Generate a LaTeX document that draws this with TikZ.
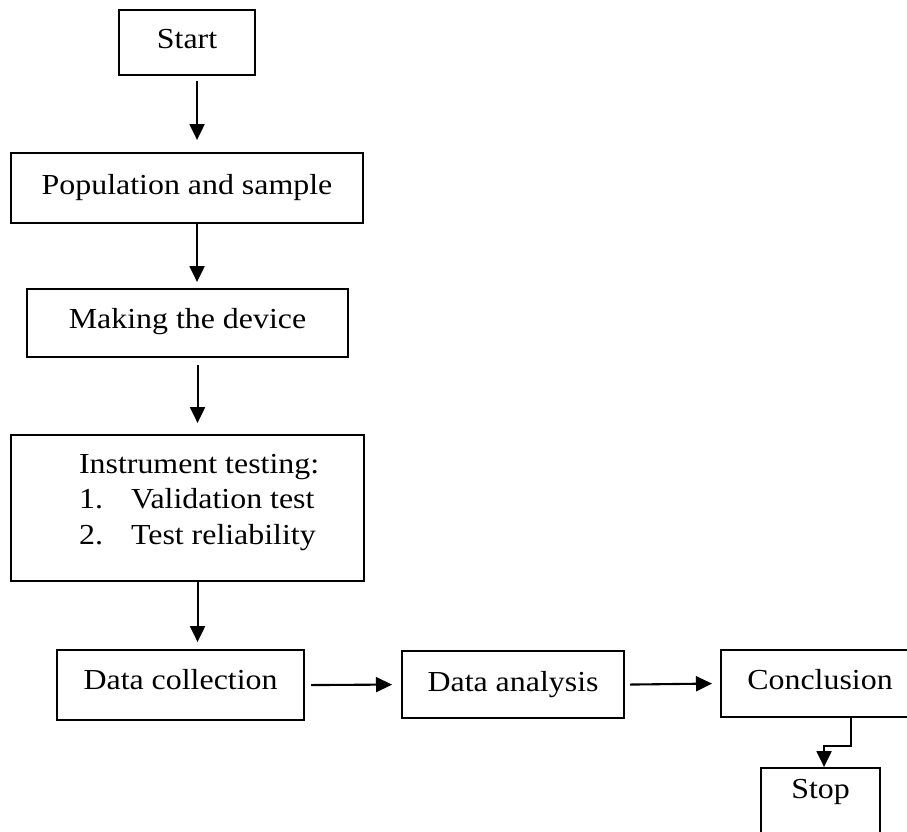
\documentclass[tikz,border=0pt]{standalone}
\usepackage{fontspec}
\setmainfont{Liberation Serif}[FakeStretch=1.1]
\usetikzlibrary{arrows.meta}
\tikzset{
  box/.style={draw, line width=2.1pt, inner sep=0pt, anchor=north west,
    font=\fontsize{29}{34}\selectfont},
  arr/.style={line width=2.1pt, -{Triangle[length=16pt,width=15pt]}},
}
\begin{document}
\begin{tikzpicture}[x=1pt,y=1pt]
\clip (0,0) rectangle (907,-831);
\fill[white] (0,0) rectangle (907,-831);

\node[box, minimum width=136pt, text height=38pt, text depth=27pt] (start) at (118,-9) {Start};
\node[box, minimum width=352pt, text height=41pt, text depth=29pt] (pop) at (10,-152) {Population and sample};
\node[box, minimum width=321pt, text height=39pt, text depth=29pt] (make) at (26,-288) {Making the device};
\node[box, text height=38pt, text depth=108pt] (instr) at (10,-434)
  {\makebox[353pt][l]{\hspace*{68pt}\vtop{\baselineskip=35.5pt
    \hbox{Instrument testing:}
    \hbox{\makebox[52pt][l]{1.}Validation test}
    \hbox{\makebox[52pt][l]{2.}Test reliability}}}};
\node[box, minimum width=247pt, text height=39pt, text depth=31pt] (dc) at (56,-649) {Data collection};
\node[box, minimum width=222pt, text height=40pt, text depth=27pt] (da) at (401,-650) {Data analysis};
\node[box, minimum width=198pt, text height=39pt, text depth=28pt] (con) at (720,-649) {Conclusion};
\node[box, minimum width=119pt, text height=30pt, text depth=43pt] (stop) at (760,-767) {Stop};

\draw[arr] ([xshift=10pt,yshift=-5pt]start.south) -- ([xshift=10pt,yshift=12pt]pop.north);
\draw[arr] ([xshift=10pt]pop.south) -- ([xshift=9.5pt,yshift=6pt]make.north);
\draw[arr] ([xshift=10pt,yshift=-7pt]make.south) -- ([xshift=10pt,yshift=11pt]instr.north);
\draw[arr] ([xshift=10pt]instr.south) -- ([xshift=17pt,yshift=7pt]dc.north);
\draw[arr] ([xshift=6pt]dc.east) -- ([xshift=-9pt]da.west);
\draw[arr] ([xshift=5pt]da.east) -- ([xshift=-8pt]con.west);
\draw[arr] ([xshift=31pt]con.south) |- ([xshift=3.5pt,yshift=21pt]stop.north) -- ([xshift=3.5pt]stop.north);
\end{tikzpicture}
\end{document}
